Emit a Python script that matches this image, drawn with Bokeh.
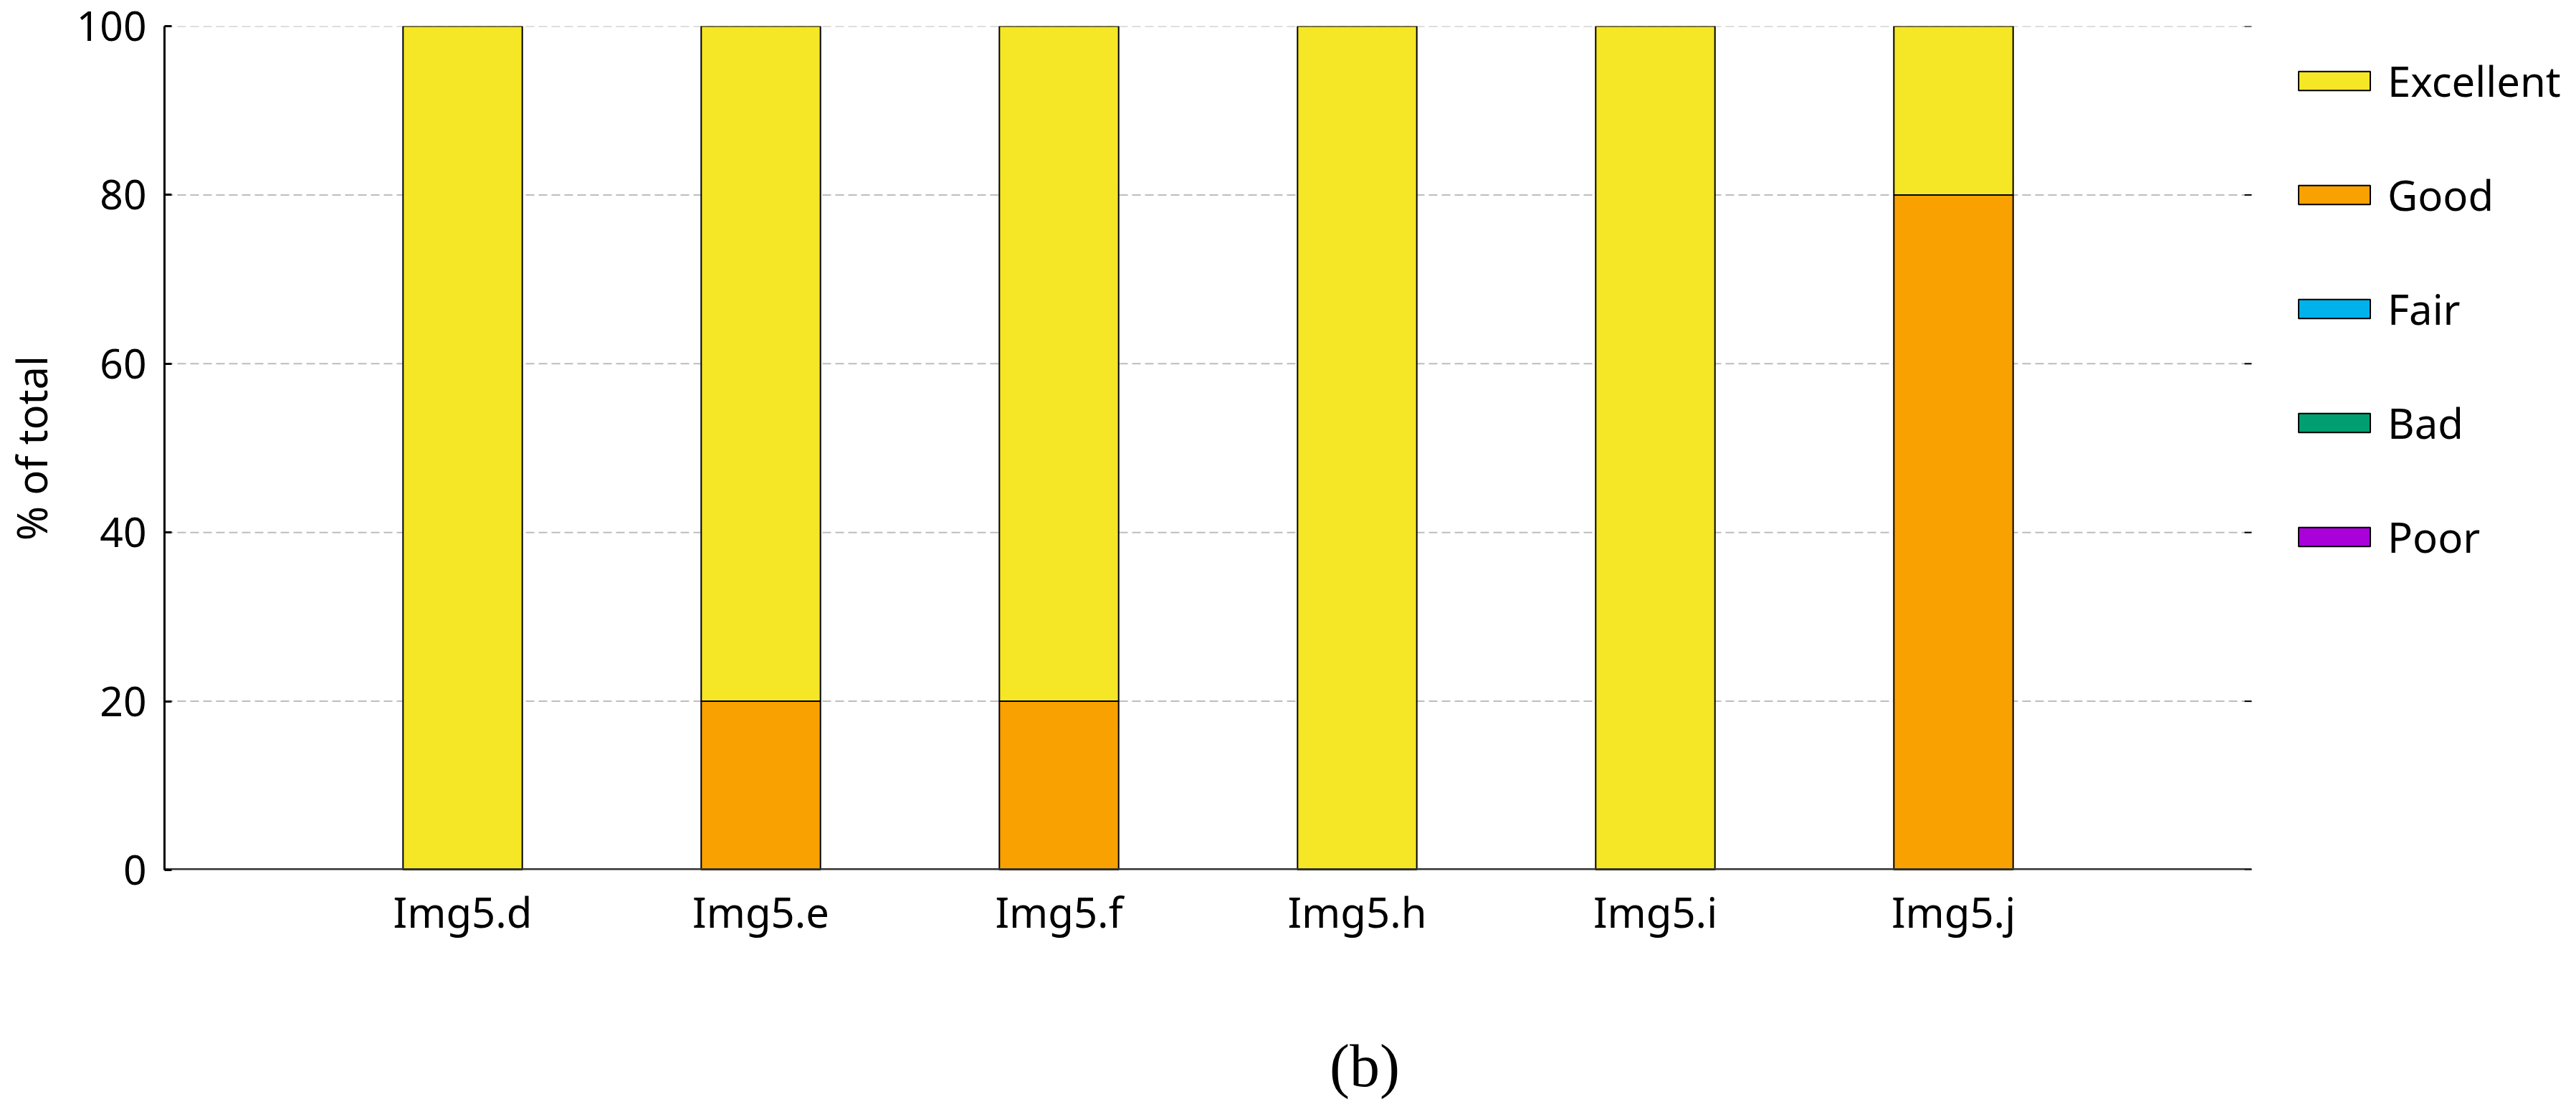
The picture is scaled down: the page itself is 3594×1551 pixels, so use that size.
from bokeh.plotting import figure
from bokeh.models import (Range1d, FixedTicker, Legend, LegendItem, ColumnDataSource)
from bokeh.embed import file_html
from bokeh.resources import INLINE

# ---- data ----
images = ["Img5.d", "Img5.e", "Img5.f", "Img5.h", "Img5.i", "Img5.j"]
poor = [0, 0, 0, 0, 0, 0]
bad = [0, 0, 0, 0, 0, 0]
fair = [0, 0, 0, 0, 0, 0]
good = [0, 20, 20, 0, 0, 80]
excellent = [100, 80, 80, 100, 100, 20]
ratings = ["Poor", "Bad", "Fair", "Good", "Excellent"]  # bottom -> top
rating_colors = ["#AA00D9", "#009E70", "#00B2EC", "#F9A100", "#F5E626"]
y_ticks = [0, 20, 40, 60, 80, 100]
y_label = "% of total"
caption = "(b)"

positions = list(range(1, len(images) + 1))
x_end = len(images) + 1

source = ColumnDataSource(dict(pos=positions, Poor=poor, Bad=bad, Fair=fair,
                               Good=good, Excellent=excellent))

SANS = "Noto Sans"
W, H = 3578, 1535
LEFT = 229
AXES_W = 2912                      # pixel width of the axes box
FRAME_W = W - LEFT                 # frame also hosts the legend on the right
x_max = x_end * FRAME_W / AXES_W   # keeps the axes box at AXES_W pixels
tick_len = 10 * x_end / AXES_W     # 10 px inward ticks, in data units

p = figure(width=W, height=H, output_backend="svg", toolbar_location=None,
           x_range=Range1d(0, x_max), y_range=Range1d(0, 100),
           min_border_left=LEFT, min_border_right=0,
           min_border_top=36, min_border_bottom=319)
p.outline_line_color = None
p.background_fill_color = "white"
p.border_fill_color = "white"
p.xgrid.grid_line_color = None
p.ygrid.grid_line_color = None

grid_y = [t for t in y_ticks if t > 0]
# dashed horizontal grid lines across the axes box
p.segment(x0=[0] * len(grid_y), x1=[x_end] * len(grid_y), y0=grid_y, y1=grid_y,
          line_color="#bdbdbd", line_dash="12 6", line_width=2)

renderers = p.vbar_stack(ratings, x="pos", width=0.4, source=source,
                         fill_color=rating_colors, line_color="black",
                         line_width=2)

# bottom axis line of the axes box
p.segment(x0=[0], x1=[x_end], y0=[0], y1=[0], line_color="#333333", line_width=5)
# inward tick marks on the right edge of the axes box
p.segment(x0=[x_end - tick_len] * len(y_ticks), x1=[x_end] * len(y_ticks),
          y0=y_ticks, y1=y_ticks, line_color="black", line_width=2)

# y axis
ya = p.yaxis[0]
ya.ticker = FixedTicker(ticks=y_ticks)
ya.major_tick_in = 10
ya.major_tick_out = 0
ya.major_tick_line_width = 3
ya.minor_tick_line_color = None
ya.axis_line_width = 3
ya.axis_line_color = "black"
ya.major_label_standoff = 25
ya.major_label_text_font = SANS
ya.major_label_text_font_size = "57px"
ya.major_label_text_color = "black"
ya.axis_label = y_label
ya.axis_label_text_font = SANS
ya.axis_label_text_font_size = "58px"
ya.axis_label_text_font_style = "normal"
ya.axis_label_text_color = "black"
ya.axis_label_standoff = 21

# x axis with image names and the panel caption
xa = p.xaxis[0]
xa.ticker = FixedTicker(ticks=positions)
xa.major_label_overrides = {pos: name for pos, name in zip(positions, images)}
xa.axis_line_color = None
xa.major_tick_line_color = None
xa.minor_tick_line_color = None
xa.major_label_standoff = 12
xa.major_label_text_font = SANS
xa.major_label_text_font_size = "58px"
xa.major_label_text_color = "black"
xa.axis_label = caption
xa.axis_label_text_font = "Liberation Serif"
xa.axis_label_text_font_size = "84px"
xa.axis_label_text_font_style = "normal"
xa.axis_label_text_color = "black"
xa.axis_label_standoff = 126

# legend to the right of the axes box (inside the wide frame)
items = [LegendItem(label=r, renderers=[rr]) for r, rr in zip(ratings, renderers)][::-1]
legend = Legend(items=items, location=(2965, 425), padding=0, margin=0,
                spacing=80, glyph_width=125, glyph_height=33, label_standoff=12,
                label_text_font=SANS, label_text_font_size="58px",
                label_text_color="black", border_line_color=None,
                background_fill_alpha=0)
p.add_layout(legend)

open("out.html", "w").write(file_html(p, INLINE))
